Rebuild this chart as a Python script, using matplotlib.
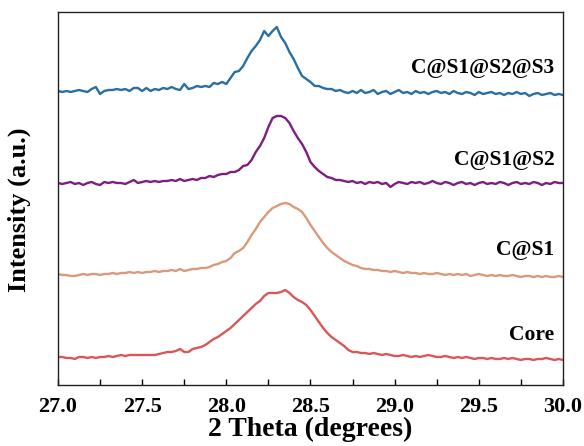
import numpy as np
import matplotlib
matplotlib.use("Agg")
import matplotlib.pyplot as plt

# 2 theta grid, 0.025 deg step
two_theta = np.linspace(27.0, 30.0, 121)

# stacked intensities (arbitrary units, offsets already included)
core = [43, 43, 42, 42, 41, 43, 43, 42, 43, 42,
        43, 43, 44, 43, 44, 45, 44, 45, 45, 45,
        45, 45, 45, 45, 46, 47, 48, 48, 49, 51,
        48, 48, 51, 52, 53, 55, 58, 61, 63, 66,
        69, 72, 76, 80, 84, 88, 92, 96, 99, 104,
        107, 107, 107, 108, 110, 107, 103, 100, 98, 95,
        90, 84, 78, 72, 67, 63, 60, 57, 54, 50,
        48, 48, 47, 47, 46, 47, 46, 45, 46, 45,
        44, 44, 45, 44, 43, 44, 43, 44, 45, 44,
        43, 43, 44, 43, 42, 43, 42, 43, 42, 41,
        42, 42, 41, 42, 41, 41, 42, 41, 42, 41,
        40, 41, 41, 40, 41, 41, 42, 41, 40, 41, 40]

c_s1 = [126, 125, 125, 124, 124, 125, 126, 125, 126, 126,
        125, 126, 126, 127, 126, 127, 127, 128, 127, 128,
        127, 128, 128, 129, 128, 129, 129, 130, 129, 131,
        129, 130, 131, 131, 132, 132, 133, 135, 136, 138,
        139, 142, 147, 149, 152, 158, 165, 171, 178, 183,
        188, 192, 194, 196, 197, 196, 193, 191, 188, 182,
        175, 169, 163, 157, 152, 148, 145, 142, 139, 137,
        135, 134, 132, 131, 131, 130, 130, 129, 129, 128,
        129, 128, 127, 128, 127, 127, 126, 127, 126, 126,
        127, 126, 125, 126, 125, 126, 125, 126, 124, 125,
        126, 125, 124, 125, 124, 125, 124, 124, 125, 124,
        123, 124, 124, 123, 124, 123, 124, 123, 123, 124, 123]

c_s1_s2 = [217, 216, 217, 218, 216, 217, 215, 217, 218, 216,
           215, 218, 217, 218, 217, 217, 216, 218, 220, 217,
           218, 219, 218, 219, 218, 219, 219, 220, 219, 221,
           219, 220, 221, 220, 222, 222, 224, 223, 225, 226,
           226, 228, 228, 230, 234, 235, 240, 248, 254, 262,
           273, 282, 284, 284, 282, 277, 269, 262, 256, 248,
           238, 233, 229, 226, 223, 222, 220, 220, 219, 218,
           219, 217, 218, 216, 218, 217, 218, 216, 217, 213,
           216, 218, 217, 216, 218, 217, 218, 216, 217, 219,
           217, 216, 218, 217, 215, 217, 218, 216, 217, 215,
           217, 218, 216, 217, 216, 218, 217, 215, 217, 218,
           216, 217, 216, 218, 217, 215, 217, 216, 218, 217, 217]

c_s1_s2_s3 = [309, 308, 309, 308, 309, 310, 309, 308, 311, 313,
              306, 309, 310, 310, 311, 310, 311, 309, 312, 312,
              309, 312, 309, 311, 310, 312, 311, 313, 311, 310,
              316, 311, 312, 314, 313, 314, 313, 317, 316, 318,
              316, 322, 328, 329, 334, 342, 349, 354, 360, 369,
              364, 369, 373, 363, 357, 348, 341, 332, 324, 321,
              318, 314, 314, 312, 311, 311, 309, 310, 308, 307,
              309, 307, 310, 307, 308, 310, 306, 308, 309, 306,
              308, 310, 307, 308, 306, 309, 307, 308, 306, 308,
              309, 307, 308, 306, 309, 307, 306, 308, 307, 305,
              308, 306, 307, 308, 306, 307, 305, 307, 306, 308,
              306, 307, 304, 306, 307, 305, 306, 307, 305, 306, 305]

series = [core, c_s1, c_s1_s2, c_s1_s2_s3]
names = ["Core", "C@S1", "C@S1@S2", "C@S1@S2@S3"]
colors = ["#d9575a", "#d99a7c", "#7d1e80", "#2a6ea3"]
label_y = [65, 150, 240, 332]

plt.rcParams['font.family'] = ['Liberation Serif', 'DejaVu Serif']
plt.rcParams['font.weight'] = 'bold'

fig = plt.figure(figsize=(5.84, 4.46), dpi=100)
ax = fig.add_axes([0.0993, 0.1368, 0.8647, 0.8363])

for vals, name, col, ly in zip(series, names, colors, label_y):
    ax.plot(two_theta, vals, color=col, linewidth=1.7)
    ax.text(29.95, ly, name, ha='right', va='center', fontsize=15.5,
            fontweight='bold')

ax.set_xlim(27.0, 30.0)
ax.set_ylim(15, 388)
ax.set_xticks(np.arange(27.0, 30.01, 0.5))
ax.set_xticks(np.arange(27.25, 30.0, 0.5), minor=True)
ax.set_xticklabels(["%.1f" % t for t in np.arange(27.0, 30.01, 0.5)])
ax.set_yticks([])
ax.tick_params(axis='x', which='both', direction='in', labelsize=16,
               length=4, width=1, pad=9)
for sp in ax.spines.values():
    sp.set_linewidth(1)
    sp.set_color('#222222')

ax.set_xlabel("2 Theta (degrees)", fontsize=20, fontweight='bold')
ax.xaxis.set_label_coords(0.5, -0.085)
ax.set_ylabel("Intensity (a.u.)", fontsize=19, fontweight='bold')
ax.yaxis.set_label_coords(-0.054, 0.469)

fig.savefig("out.png", dpi=100)
